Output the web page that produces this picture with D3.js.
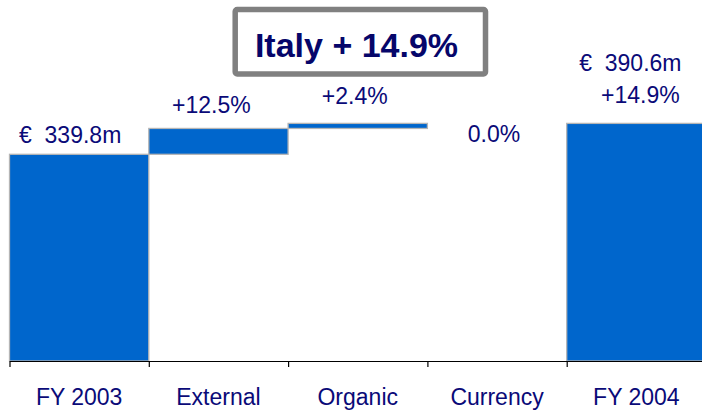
<!DOCTYPE html>
<html>
<head>
<meta charset="utf-8">
<script src="https://cdn.jsdelivr.net/npm/d3@7"></script>
<style>
  body { margin: 0; background: #fff; }
  text { font-family: Arial, "Liberation Sans", sans-serif; fill: #0a0a78; }
</style>
</head>
<body>
<div id="chart"></div>
<script>
// waterfall data (EUR m)
var categories = ["FY 2003", "External", "Organic", "Currency", "FY 2004"];
var startValue = 339.8;
var deltas = [42.5, 8.3, 0.0];
var endValue = 390.6;
var barLabels = [["€  339.8m"], ["+12.5%"], ["+2.4%"], ["0.0%"], ["€  390.6m", "+14.9%"]];
var titleText = "Italy + 14.9%";

var width = 702, height = 411;
var baseY = 361;

var svg = d3.select("#chart")
    .append("svg")
    .attr("width", width)
    .attr("height", height);

// build steps
var steps = [];
var running = startValue;
steps.push({ cat: categories[0], y0: 0, y1: startValue });
deltas.forEach(function (d, i) {
    steps.push({ cat: categories[i + 1], y0: running, y1: running + d });
    running += d;
});
steps.push({ cat: categories[4], y0: 0, y1: endValue });

var x = d3.scaleBand()
    .domain(categories)
    .range([9.5, 706])
    .paddingInner(0)
    .paddingOuter(0);

var y = d3.scaleLinear()
    .domain([0, 390.6])
    .range([baseY, 123.4]);

// bars
svg.selectAll("rect.bar")
    .data(steps.filter(function (d) { return d.y1 !== d.y0; }))
    .enter()
    .append("rect")
    .attr("class", "bar")
    .attr("x", function (d) { return x(d.cat); })
    .attr("width", x.bandwidth())
    .attr("y", function (d) { return y(Math.max(d.y0, d.y1)); })
    .attr("height", function (d) { return Math.abs(y(d.y0) - y(d.y1)); })
    .style("fill", "#0066cc")
    .style("stroke", "#b5b5b5")
    .style("stroke-width", 1.3);

// axis: ticks at band edges
var xIdx = d3.scaleLinear().domain([0, categories.length]).range(x.range());
var tickAxis = svg.append("g")
    .attr("transform", "translate(0," + baseY + ")")
    .call(d3.axisBottom(xIdx)
        .tickValues(d3.range(categories.length))
        .tickFormat("")
        .tickSize(6)
        .tickSizeOuter(0));
tickAxis.select(".domain").attr("stroke", "#000").attr("stroke-width", 1.2);
tickAxis.selectAll(".tick line").attr("stroke", "#000").attr("stroke-width", 1.2);

var labelAxis = svg.append("g")
    .attr("transform", "translate(0," + baseY + ")")
    .call(d3.axisBottom(x).tickSize(0));
labelAxis.select(".domain").remove();
labelAxis.selectAll("text")
    .attr("y", 44)
    .attr("dy", null)
    .style("font-size", "23px")
    .style("fill", "#0a0a78")
    .style("font-family", "Arial, 'Liberation Sans', sans-serif");

// value labels
var labelDy = [[-11], [-15], [-19], [19], [-52, -20]];
var labelDx = [-9, -7, -3, -3, 4];
steps.forEach(function (d, i) {
    var top = y(Math.max(d.y0, d.y1));
    barLabels[i].forEach(function (t, j) {
        svg.append("text")
            .attr("x", x(d.cat) + x.bandwidth() / 2 + labelDx[i] + (j === 0 && i === 4 ? -10 : 0))
            .attr("y", top + labelDy[i][j])
            .attr("text-anchor", "middle")
            .style("font-size", "23px")
            .style("white-space", "pre")
            .text(t);
    });
});

// title box
svg.append("rect")
    .attr("x", 235.2)
    .attr("y", 9.5)
    .attr("width", 250.3)
    .attr("height", 64.5)
    .attr("rx", 2)
    .style("fill", "#fff")
    .style("stroke", "#808080")
    .style("stroke-width", 5.5);

svg.append("text")
    .attr("x", 356.5)
    .attr("y", 56.7)
    .attr("text-anchor", "middle")
    .style("font-size", "34px")
    .style("font-weight", "bold")
    .style("fill", "#06066a")
    .text(titleText);
</script>
</body>
</html>
